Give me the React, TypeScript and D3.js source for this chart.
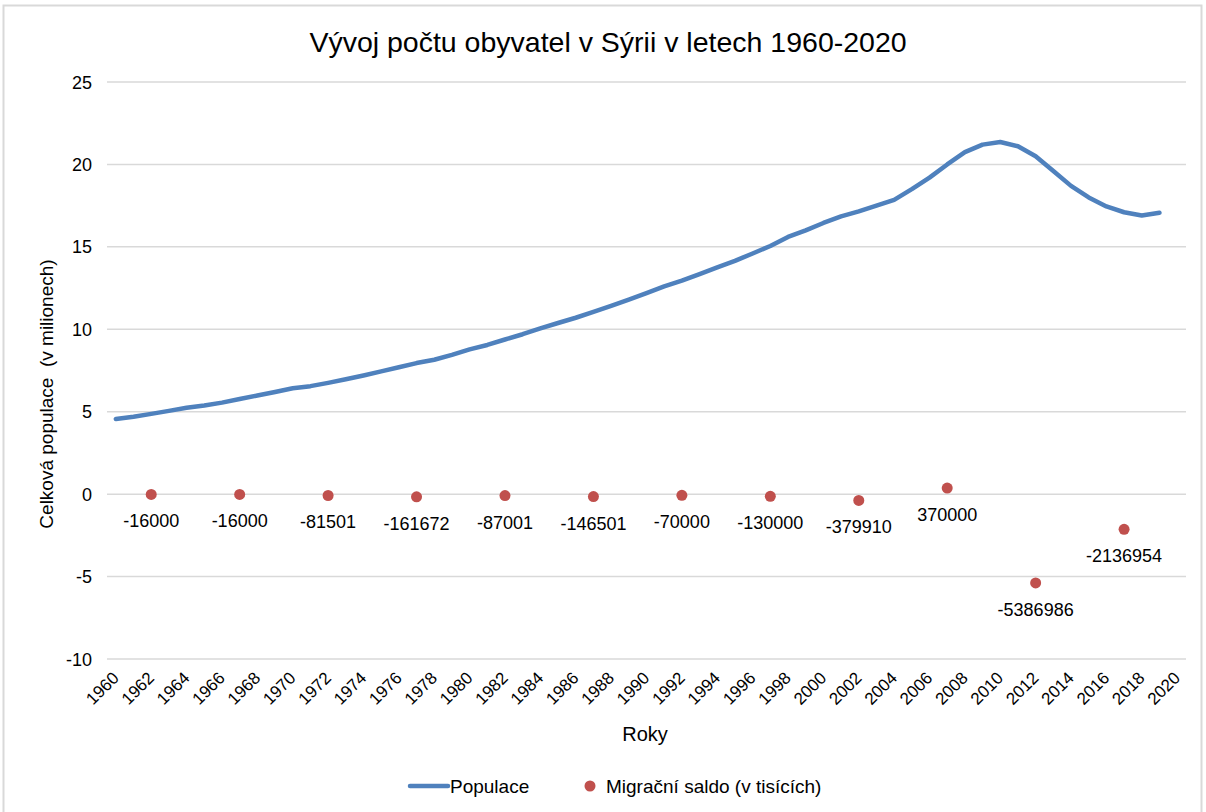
import React from 'react';
import * as d3 from 'd3';

const YEARS = d3.range(1960, 2021).map(String);

// population in millions, 1960..2019
const POPULATION = [
  4.56, 4.7, 4.87, 5.05, 5.24, 5.38, 5.55, 5.77, 5.98, 6.2,
  6.42, 6.55, 6.75, 6.97, 7.2, 7.45, 7.7, 7.95, 8.15, 8.45,
  8.78, 9.05, 9.38, 9.7, 10.05, 10.38, 10.7, 11.05, 11.42, 11.8,
  12.2, 12.6, 12.95, 13.35, 13.75, 14.15, 14.6, 15.05, 15.6, 16.0,
  16.45, 16.85, 17.15, 17.5, 17.85, 18.5, 19.2, 20.0, 20.75, 21.2,
  21.36, 21.1, 20.5, 19.6, 18.7, 18.0, 17.45, 17.1, 16.9, 17.07,
];

const MIGRATION_YEARS = ['1962', '1967', '1972', '1977', '1982', '1987', '1992', '1997', '2002', '2007', '2012', '2017'];
const MIGRATION = [-16000, -16000, -81501, -161672, -87001, -146501, -70000, -130000, -379910, 370000, -5386986, -2136954];

const Y_TICKS = [-10, -5, 0, 5, 10, 15, 20, 25];
const X_LABELS = YEARS.filter((_, i) => i % 2 === 0);

const W = 1206;
const H = 812;
const PLOT = { left: 107, right: 1186, top: 82, bottom: 659 };
const FONT = '"Liberation Sans", Arial, sans-serif';
const BLUE = '#4F81BD';
const RED = '#C0504D';

export default function App() {
  const x = d3.scaleBand().domain(YEARS).range([PLOT.left, PLOT.right]);
  const y = d3.scaleLinear().domain([-10, 25]).range([PLOT.bottom, PLOT.top]);
  const cx = (yr: string) => (x(yr) as number) + x.bandwidth() / 2;

  const line = d3
    .line<number>()
    .x((_, i) => cx(YEARS[i]))
    .y((d) => y(d));

  return (
    <svg
      width={W}
      height={H}
      style={{ position: 'absolute', left: 0, top: 0, background: '#fff' }}
      fontFamily={FONT}
    >
      <rect x={3.5} y={5.5} width={1198} height={830} fill="#fff" stroke="#d9d9d9" strokeWidth={2} />

      <text x={608} y={52} textAnchor="middle" fontSize={28.5} fill="#000">
        Vývoj počtu obyvatel v Sýrii v letech 1960-2020
      </text>

      {/* gridlines + y labels */}
      {Y_TICKS.map((t) => (
        <g key={t}>
          <line x1={PLOT.left} x2={PLOT.right} y1={y(t)} y2={y(t)} stroke="#d9d9d9" strokeWidth={1.5} />
          <text x={92} y={y(t) + 6.5} textAnchor="end" fontSize={18} fill="#000">
            {t}
          </text>
        </g>
      ))}

      {/* x labels */}
      {X_LABELS.map((yr) => (
        <text
          key={yr}
          transform={`translate(${cx(yr) + 4},${679}) rotate(-45)`}
          textAnchor="end"
          fontSize={17}
          fill="#000"
        >
          {yr}
        </text>
      ))}

      <text
        transform={`translate(53,394) rotate(-90)`}
        textAnchor="middle"
        fontSize={19}
        fill="#000"
        style={{ whiteSpace: 'pre' }}
      >
        {'Celková populace  (v milionech)'}
      </text>
      <text x={645} y={741} textAnchor="middle" fontSize={20} fill="#000">
        Roky
      </text>

      <path d={line(POPULATION) || ''} fill="none" stroke={BLUE} strokeWidth={4.5} strokeLinejoin="round" strokeLinecap="round" />

      {MIGRATION.map((v, i) => {
        const px = cx(MIGRATION_YEARS[i]);
        const py = y(v / 1e6);
        return (
          <g key={i}>
            <circle cx={px} cy={py} r={5.5} fill={RED} />
            <text x={px} y={py + 33} textAnchor="middle" fontSize={18} fill="#000">
              {v}
            </text>
          </g>
        );
      })}

      {/* legend */}
      <line x1={410} x2={448} y1={786} y2={786} stroke={BLUE} strokeWidth={4.5} strokeLinecap="round" />
      <text x={450} y={793} fontSize={19} fill="#000">Populace</text>
      <circle cx={590} cy={786} r={5.5} fill={RED} />
      <text x={606} y={793} fontSize={19} fill="#000">Migrační saldo (v tisících)</text>
    </svg>
  );
}
